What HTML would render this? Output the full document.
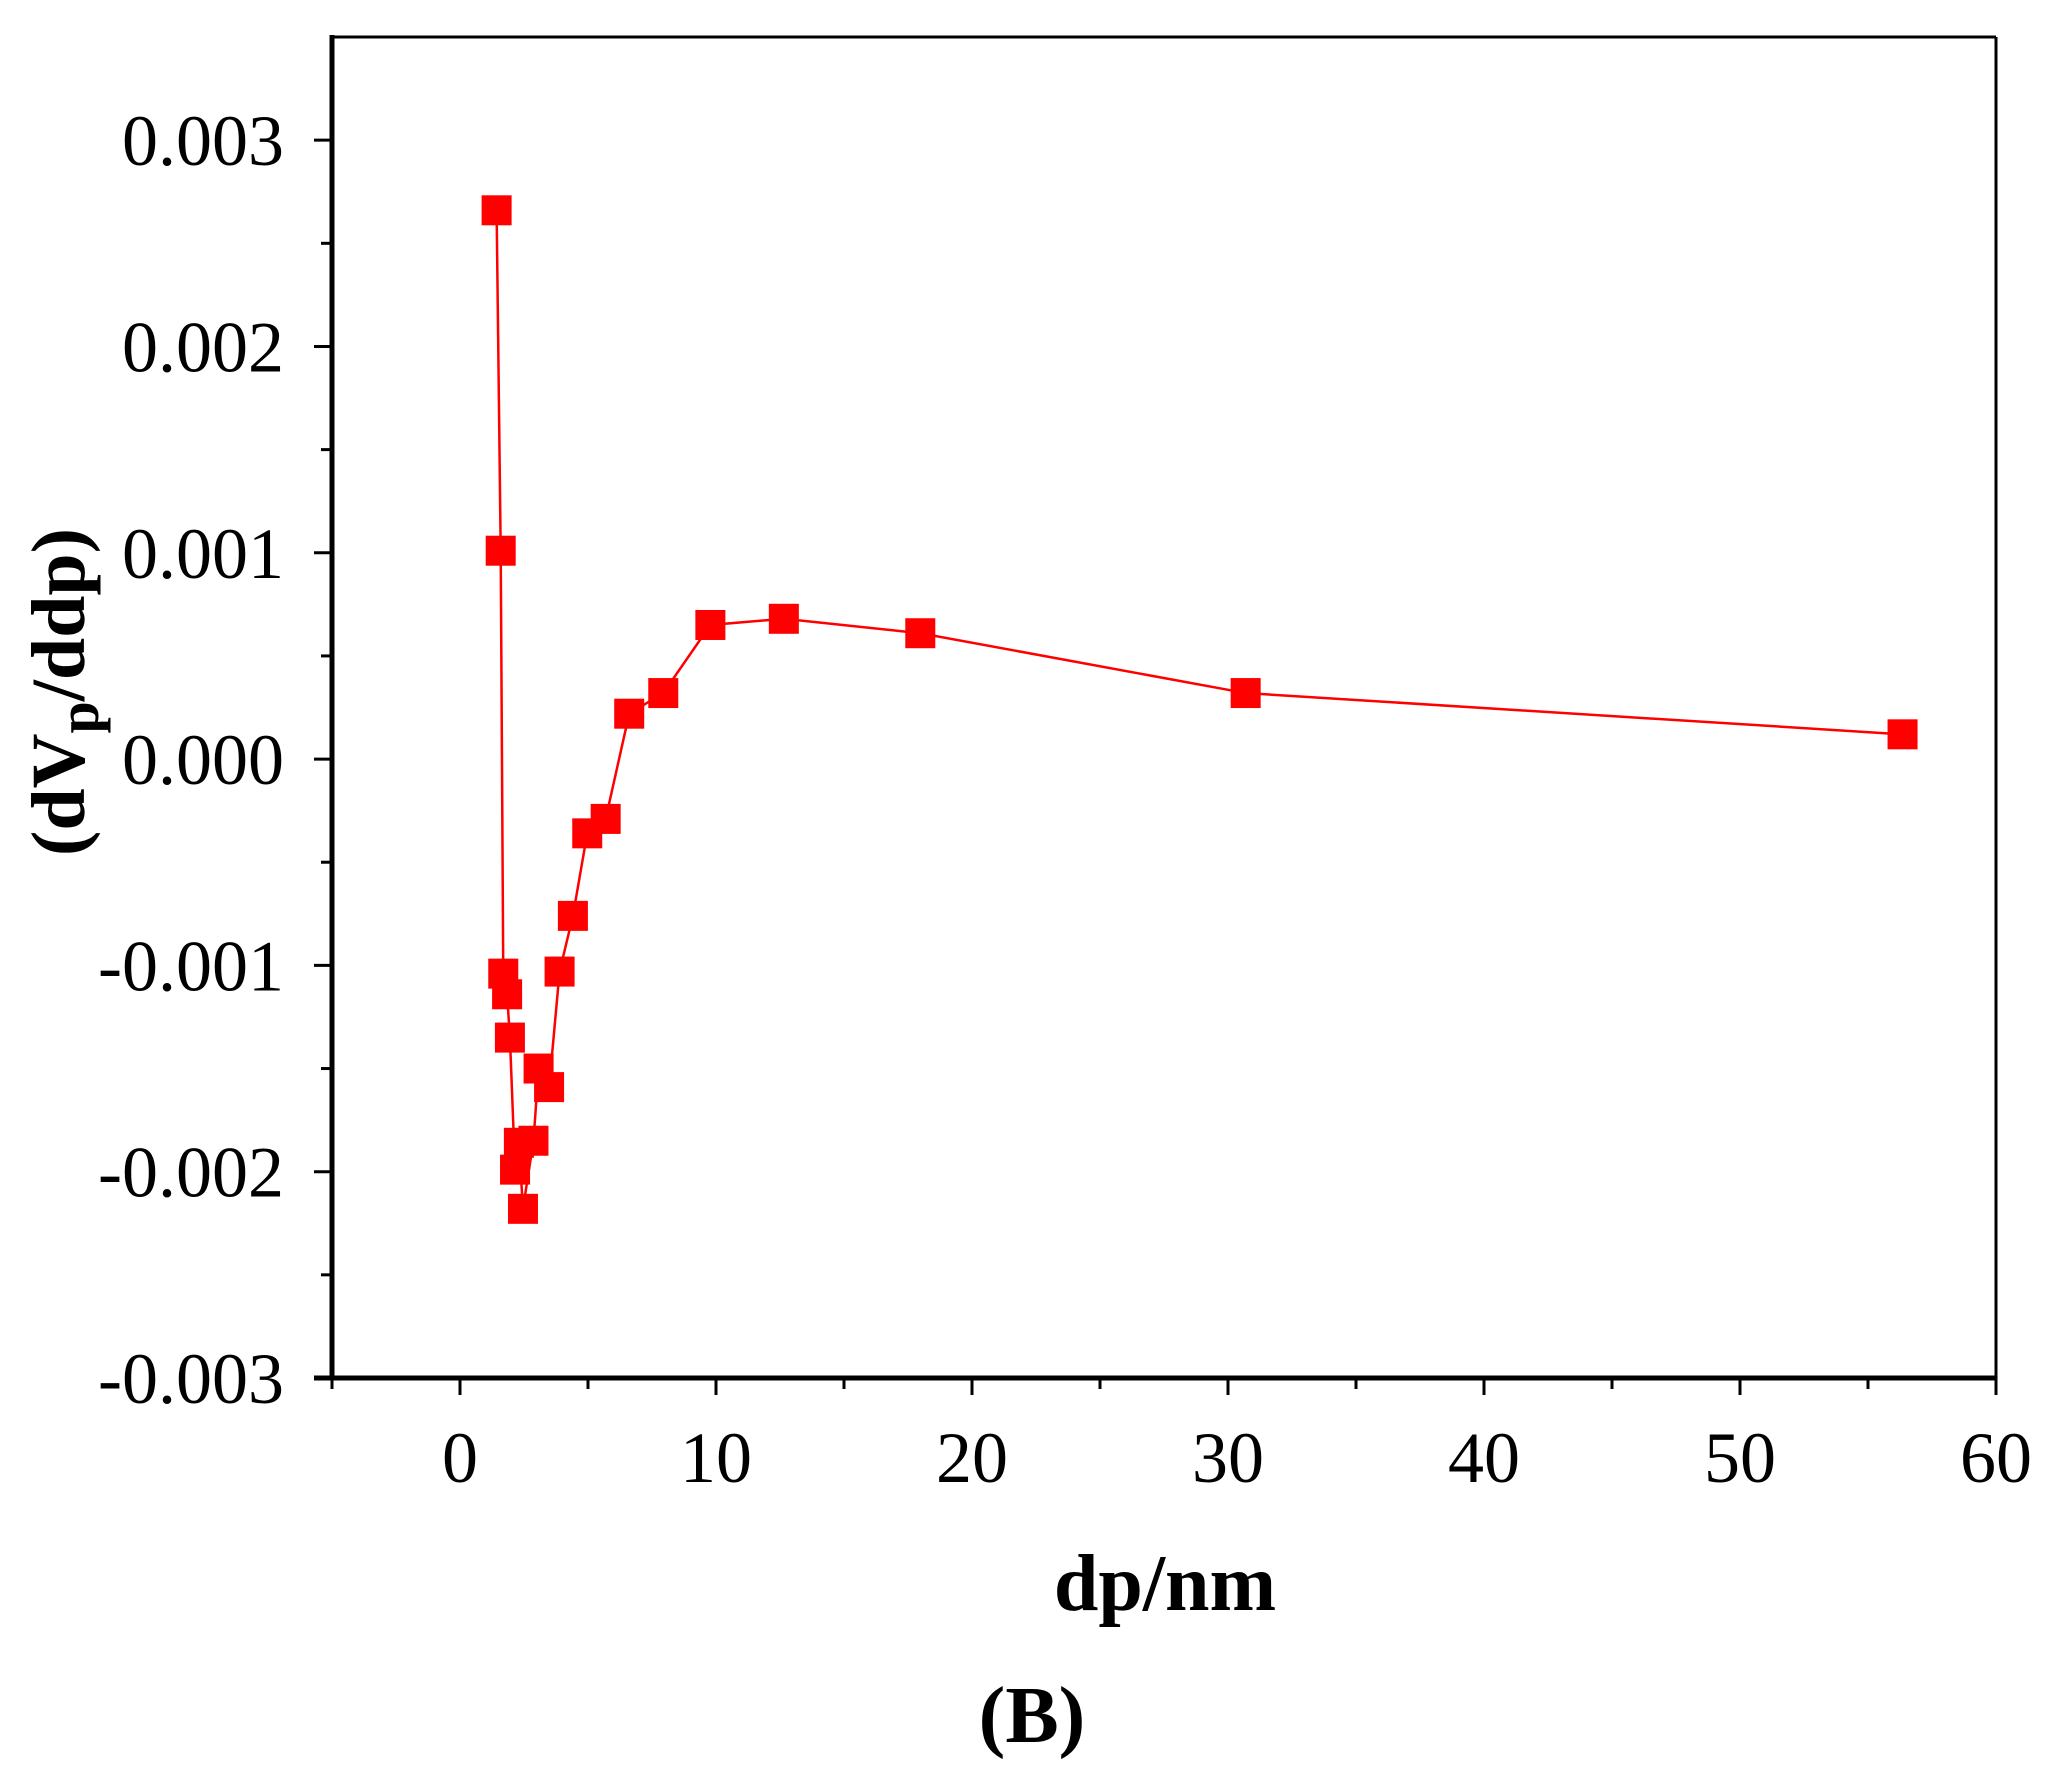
<!DOCTYPE html>
<html><head><meta charset="utf-8"><style>body{margin:0;background:#fff}svg{display:block}</style></head>
<body>
<svg id="chart" width="2056" height="1790" viewBox="0 0 2056 1790" xmlns="http://www.w3.org/2000/svg" font-family="'Liberation Serif', serif">
<g id="axes"></g>
<g id="series"></g>
<text x="1165" y="1610" font-size="80" font-weight="bold" text-anchor="middle">dp/nm</text>
<text transform="translate(84,692) rotate(-90)" font-size="76" font-weight="bold" text-anchor="middle">(dV<tspan font-size="58" dy="14">p</tspan><tspan dy="-14">/ddp)</tspan></text>
<text x="1032" y="1742" font-size="80" font-weight="bold" text-anchor="middle">(B)</text>
</svg>
<script>
const xs = [1.43,1.59,1.69,1.84,1.95,2.15,2.3,2.46,2.87,3.07,3.48,3.89,4.41,4.97,5.69,6.61,7.94,9.78,12.65,17.98,30.69,56.35];
const ys = [0.00266,0.00101,-0.00104,-0.00114,-0.00135,-0.00199,-0.00186,-0.00218,-0.00185,-0.0015,-0.00159,-0.00103,-0.00076,-0.00036,-0.00029,0.00022,0.00032,0.00065,0.00068,0.00061,0.00032,0.00012];
const xTicks = [0,10,20,30,40,50,60];
const yTicks = [-0.003,-0.002,-0.001,0,0.001,0.002,0.003];
const yTickLabels = ["-0.003","-0.002","-0.001","0.000","0.001","0.002","0.003"];

const L=332,R=1996,T=37,B=1378;
const xMin=-5,xMax=60,yMin=-0.003,yMax=0.0035;
const X=v=>L+(v-xMin)/(xMax-xMin)*(R-L);
const Y=v=>B-(v-yMin)/(yMax-yMin)*(B-T);
const NS="http://www.w3.org/2000/svg";
function mk(tag,attrs,parent){const e=document.createElementNS(NS,tag);for(const k in attrs)e.setAttribute(k,attrs[k]);parent.appendChild(e);return e;}
const ax=document.getElementById('axes');
let e;
e=mk('line',{x1:L,y1:T,x2:R,y2:T,stroke:'#000','stroke-width':3},ax);


e=mk('line',{x1:R,y1:T,x2:R,y2:B,stroke:'#000','stroke-width':3},ax);


e=mk('line',{x1:L,y1:T-2,x2:L,y2:B+2,stroke:'#000','stroke-width':5},ax);


e=mk('line',{x1:L-18,y1:B,x2:R+1,y2:B,stroke:'#000','stroke-width':5},ax);


for(let v=-5;v<=60;v+=5){
  const major=v%10===0;
  e=mk('line',{x1:X(v),y1:B,x2:X(v),y2:B+(major?17:11),stroke:'#000','stroke-width':3},ax);
  
  
}
xTicks.forEach(v=>{
  e=mk('text',{x:X(v),y:1482,'font-size':72,'text-anchor':'middle'},ax);
  e.textContent=String(v);
  
  
});
for(let i=0;i<=12;i++){
  const v=-0.003+i*0.0005;const major=i%2===0;
  e=mk('line',{x1:L-(major?18:11),y1:Y(v),x2:L,y2:Y(v),stroke:'#000','stroke-width':3},ax);
  
  
}
yTicks.forEach((v,i)=>{
  e=mk('text',{x:284,y:Y(v)+25,'font-size':72,'text-anchor':'end'},ax);
  e.textContent=yTickLabels[i];
  
  
});
const sr=document.getElementById('series');
e=mk('polyline',{points:xs.map((x,i)=>X(x)+','+Y(ys[i])).join(' '),fill:'none',stroke:'#ff0000','stroke-width':2.5},sr);


const s=30;
xs.forEach((x,i)=>{
  e=mk('rect',{x:X(x)-s/2,y:Y(ys[i])-s/2,width:s,height:s,fill:'#ff0000'},sr);
  
  
});
</script>
</body></html>
